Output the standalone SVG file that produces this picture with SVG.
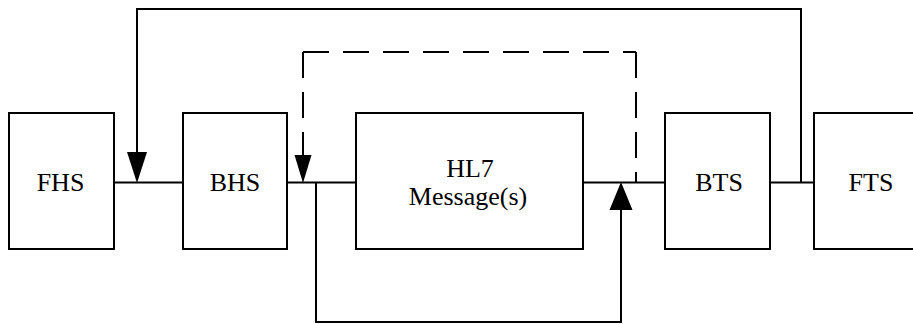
<svg xmlns="http://www.w3.org/2000/svg" width="913" height="324" viewBox="0 0 913 324">
<style>
.box{fill:#fff;stroke:#000;stroke-width:2}
.lbl{font-family:"Liberation Serif","Times New Roman",serif;font-size:26px;fill:#000;text-anchor:middle}
.ln{fill:none;stroke:#000;stroke-width:2}
.dash{fill:none;stroke:#000;stroke-width:2;stroke-dasharray:26 14}
.ah{fill:#000;stroke:none}
</style>
<rect width="913" height="324" fill="#fff"/>
<g id="connectors">
<path class="ln" d="M114 182.5H183M287 182.5H356M583 182.5H665M770 182.5H814"/>
<path class="ln" d="M801 182.5V9H137V154"/>
<polygon class="ah" points="127,152 147,152 137,183"/>
<path class="dash" d="M303 52V156"/>
<path class="dash" d="M303 52H636"/>
<path class="dash" d="M636 52V182.5"/>
<polygon class="ah" points="294.5,155 311.5,155 303,183"/>
<path class="ln" d="M316 182.5V322H621V208"/>
<polygon class="ah" points="609.5,210 632.5,210 621,182"/>
</g>
<g id="FHS"><rect class="box" x="9" y="113" width="105" height="136"/><text class="lbl" x="60.5" y="191">FHS</text></g>
<g id="BHS"><rect class="box" x="183" y="113" width="104" height="136"/><text class="lbl" x="235" y="191">BHS</text></g>
<g id="HL7"><rect class="box" x="356" y="113" width="227" height="136"/><text class="lbl" x="470" y="177">HL7</text><text class="lbl" x="468" y="205">Message(s)</text></g>
<g id="BTS"><rect class="box" x="665" y="113" width="105" height="136"/><text class="lbl" x="719" y="191">BTS</text></g>
<g id="FTS"><rect class="box" x="814" y="113" width="106" height="136"/><text class="lbl" x="871" y="191">FTS</text></g>
</svg>
